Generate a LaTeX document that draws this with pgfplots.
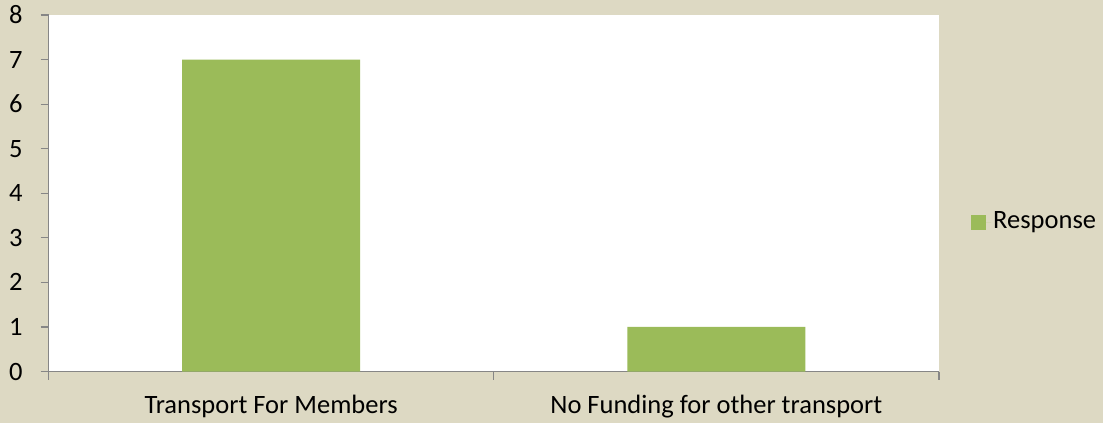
\documentclass[border=0pt]{standalone}
\usepackage{fontspec}
\setmainfont{Carlito}
\usepackage{pgfplots}
\pgfplotsset{compat=1.18}
\definecolor{bgc}{RGB}{221,217,195}
\definecolor{barc}{RGB}{155,187,89}
\definecolor{axc}{RGB}{134,134,134}
\begin{document}
\fontsize{26.5bp}{32bp}\selectfont
\begin{tikzpicture}[x=1bp,y=1bp]
\fill[bgc] (0,0) rectangle (1103,423);
\useasboundingbox (0,0) rectangle (1103,423);
\begin{axis}[
  at={(48.5bp,51.5bp)}, anchor=south west,
  scale only axis, width=890.5bp, height=356.5bp,
  axis background/.style={fill=white},
  axis x line*=bottom, axis y line*=left,
  axis line style={draw=axc, line width=1.2bp},
  ybar, bar width=178bp,
  xmin=-0.5, xmax=1.5, ymin=0, ymax=8,
  ytick={0,1,2,3,4,5,6,7,8},
  xtick={0,1},
  xticklabels={Transport For Members, No Funding for other transport},
  xtick style={draw=none},
  ytick style={draw=axc, line width=1.2bp},
  extra x ticks={-0.5,0.5,1.5},
  extra x tick labels={},
  extra x tick style={xtick style={draw=axc, line width=1.2bp}},
  tick align=outside, major tick length=8bp,
  /pgf/number format/assume math mode=true,
  tick label style={font=\fontsize{26.5bp}{32bp}\selectfont, text=black},
  yticklabel style={xshift=-9bp},
  xticklabel style={yshift=-7bp},
  legend style={at={(1.0326,0.419)}, anchor=west, draw=none, fill=none,
    font=\fontsize{26.5bp}{32bp}\selectfont},
  legend image code/.code={\fill[barc] (0bp,-7.5bp) rectangle (15bp,7.5bp);
    \path (0bp,0bp) -- (20bp,0bp);},
]
\addplot[fill=barc, draw=none] coordinates {(0,7) (1,1)};
\addlegendentry{Response}
\end{axis}
\end{tikzpicture}
\end{document}
